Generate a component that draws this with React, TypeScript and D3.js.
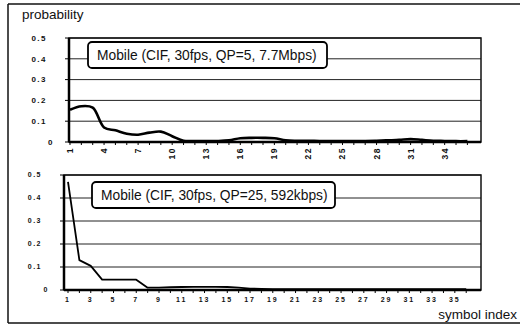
import * as d3 from 'd3';
import { useEffect, useRef } from 'react';

// symbol index (1..36) for both panels
const symbols = [1, 2, 3, 4, 5, 6, 7, 8, 9, 10, 11, 12, 13, 14, 15, 16, 17, 18,
    19, 20, 21, 22, 23, 24, 25, 26, 27, 28, 29, 30, 31, 32, 33, 34, 35, 36];

// QP=5, 7.7Mbps
const probHigh = [0.155, 0.172, 0.165, 0.07, 0.056, 0.04, 0.035, 0.045, 0.05, 0.028,
    0.006, 0.005, 0.005, 0.005, 0.008, 0.018, 0.02, 0.02, 0.018, 0.008,
    0.006, 0.006, 0.005, 0.005, 0.005, 0.005, 0.005, 0.006, 0.008, 0.01,
    0.014, 0.01, 0.006, 0.005, 0.004, 0.004];

// QP=25, 592kbps
const probLow = [0.47, 0.13, 0.105, 0.045, 0.045, 0.045, 0.045, 0.01, 0.01, 0.012,
    0.013, 0.014, 0.014, 0.014, 0.013, 0.01, 0.006, 0.005, 0.004, 0.004,
    0.004, 0.004, 0.004, 0.004, 0.004, 0.004, 0.004, 0.004, 0.004, 0.004,
    0.004, 0.004, 0.004, 0.004, 0.004, 0.004];

const topTicks = [1, 4, 7, 10, 13, 16, 19, 22, 25, 28, 31, 34];
const bottomTicks = [1, 3, 5, 7, 9, 11, 13, 15, 17, 19, 21, 23, 25, 27, 29, 31, 33, 35];
const yTicks = [0, 0.1, 0.2, 0.3, 0.4, 0.5];
const yTickLabels = ['0', '0.1', '0.2', '0.3', '0.4', '0.5'];

const labelHigh = 'Mobile (CIF, 30fps, QP=5, 7.7Mbps)';
const labelLow = 'Mobile (CIF, 30fps, QP=25, 592kbps)';

const App = () => {
    const ref = useRef<HTMLDivElement>(null);

    useEffect(() => {
        drawChart();
    }, []);

    const drawChart = () => {
        const width = 520;
        const height = 326;
        d3.select(ref.current).selectAll('*').remove();

        const svg: any = d3.select(ref.current)
            .append('svg')
            .attr('width', width)
            .attr('height', height)
            .style('display', 'block')
            .style('font-family', 'Arial, "Liberation Sans", sans-serif');

        svg.append('rect').attr('width', width).attr('height', height).attr('fill', '#fff');

        // outer frame (left, top, bottom; right edge runs off the page)
        const frame = [[8, 4, 8, 323], [8, 4, 520, 4], [8, 323, 520, 323]];
        svg.selectAll('.frame')
            .data(frame)
            .enter()
            .append('line')
            .attr('x1', (d: number[]) => d[0]).attr('y1', (d: number[]) => d[1])
            .attr('x2', (d: number[]) => d[2]).attr('y2', (d: number[]) => d[3])
            .attr('stroke', '#111')
            .attr('stroke-width', 1.5);

        svg.append('text').text('probability')
            .attr('x', 22).attr('y', 19)
            .style('font-size', '13.5px').style('fill', '#111');

        svg.append('text').text('symbol index')
            .attr('x', 517).attr('y', 319)
            .style('text-anchor', 'end')
            .style('font-size', '13.5px').style('fill', '#111');

        const panel = (opts: any) => {
            const { values, left, right, top, bottom, xRange, xDomain, ticks,
                rotated, label, box, smooth, tickFont, lineWidth } = opts;
            const x = d3.scaleLinear().domain(xDomain).range(xRange);
            const y = d3.scaleLinear().domain([0, 0.5]).range([bottom, top]);
            const g = svg.append('g');

            // gridlines
            g.selectAll('.grid')
                .data(yTicks.slice(1))
                .enter()
                .append('line')
                .attr('x1', left).attr('x2', right)
                .attr('y1', (d: number) => y(d)).attr('y2', (d: number) => y(d))
                .attr('stroke', '#222').attr('stroke-width', 1);

            // frame
            g.append('rect')
                .attr('x', left).attr('y', top)
                .attr('width', right - left).attr('height', bottom - top)
                .attr('fill', 'none').attr('stroke', '#111').attr('stroke-width', 1.5);
            g.append('line')
                .attr('x1', left).attr('x2', left).attr('y1', top).attr('y2', bottom)
                .attr('stroke', '#000').attr('stroke-width', 2.5);
            g.append('line')
                .attr('x1', left).attr('x2', right).attr('y1', bottom).attr('y2', bottom)
                .attr('stroke', '#000').attr('stroke-width', 2.5);

            // y ticks
            g.selectAll('.ytick')
                .data(yTicks)
                .enter()
                .append('line')
                .attr('x1', left - 4).attr('x2', left)
                .attr('y1', (d: number) => y(d)).attr('y2', (d: number) => y(d))
                .attr('stroke', '#000').attr('stroke-width', 1);
            g.selectAll('.ylab')
                .data(yTicks)
                .enter()
                .append('text')
                .text((d: number, i: number) => yTickLabels[i])
                .attr('x', (d: number) => d === 0 ? left - 15 : left - 22)
                .attr('y', (d: number) => y(d))
                .attr('dy', '0.35em')
                .style('text-anchor', 'end')
                .style('font-size', tickFont.y)
                .style('font-weight', 700)
                .style('letter-spacing', '1.5px')
                .style('fill', '#111');

            // x minor ticks
            g.selectAll('.xtick')
                .data(symbols)
                .enter()
                .append('line')
                .attr('x1', (d: number) => x(d)).attr('x2', (d: number) => x(d))
                .attr('y1', bottom).attr('y2', bottom + 3)
                .attr('stroke', '#000').attr('stroke-width', 1);

            if (rotated) {
                g.selectAll('.xlab')
                    .data(ticks)
                    .enter()
                    .append('text')
                    .text((d: number) => d)
                    .attr('transform', (d: number) => `translate(${x(d)},${bottom + 5}) rotate(-90)`)
                    .attr('dy', '0.35em')
                    .style('text-anchor', 'end')
                    .style('font-size', tickFont.x)
                    .style('font-weight', 700)
                    .style('letter-spacing', '1.5px')
                    .style('fill', '#111');
            } else {
                g.selectAll('.xlab')
                    .data(ticks)
                    .enter()
                    .append('text')
                    .text((d: number) => d)
                    .attr('x', (d: number) => x(d))
                    .attr('y', bottom + 12)
                    .style('text-anchor', 'middle')
                    .style('font-size', tickFont.x)
                    .style('font-weight', 700)
                    .style('letter-spacing', '2px')
                    .style('fill', '#111');
            }

            const line = d3.line<number>()
                .x((d: number, i: number) => x(symbols[i]))
                .y((d: number) => y(d))
                .curve(smooth ? d3.curveCatmullRom : d3.curveLinear);
            g.append('path')
                .datum(values)
                .attr('d', line)
                .attr('fill', 'none')
                .attr('stroke', '#000')
                .attr('stroke-width', lineWidth)
                .attr('stroke-linejoin', 'round');

            // annotation box
            g.append('rect')
                .attr('x', box.x).attr('y', box.y)
                .attr('width', box.w).attr('height', box.h)
                .attr('rx', 4)
                .attr('fill', '#fff').attr('stroke', '#000').attr('stroke-width', 1.8);
            g.append('text').text(label)
                .attr('x', box.x + 9).attr('y', box.y + box.h / 2)
                .attr('dy', '0.36em')
                .style('font-size', '13.8px')
                .style('fill', '#111');
        };

        panel({
            values: probHigh, left: 69, right: 481, top: 38, bottom: 142,
            xDomain: [1, 37.2], xRange: [70, 481], ticks: topTicks, rotated: true,
            label: labelHigh, box: { x: 88, y: 42, w: 239, h: 26 }, smooth: true,
            tickFont: { x: '8.5px', y: '8px' }, lineWidth: 2.6
        });

        panel({
            values: probLow, left: 64, right: 481, top: 175, bottom: 290,
            xDomain: [1, 37.3], xRange: [68, 481], ticks: bottomTicks, rotated: false,
            label: labelLow, box: { x: 92, y: 182, w: 243, h: 26 }, smooth: false,
            tickFont: { x: '7px', y: '7px' }, lineWidth: 1.8
        });
    };

    return <div ref={ref} style={{ position: 'fixed', left: 0, top: 0 }}></div>;
};

export default App;
